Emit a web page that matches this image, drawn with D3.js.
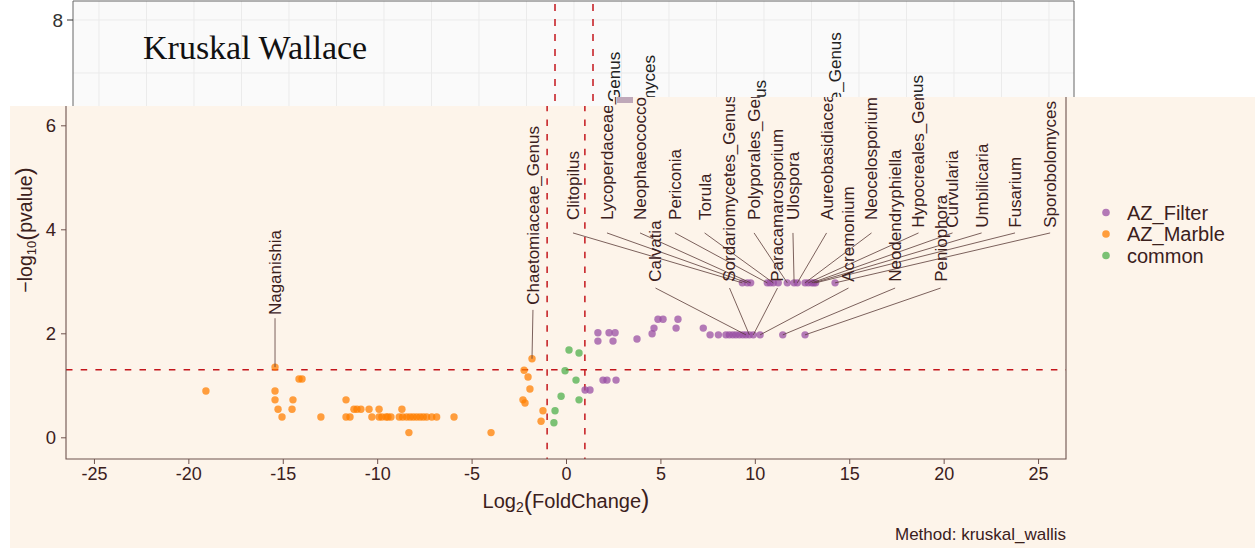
<!DOCTYPE html>
<html><head><meta charset="utf-8">
<script src="https://cdn.jsdelivr.net/npm/d3@7"></script>
<style>body{margin:0;background:#fff} svg{display:block}</style>
</head><body><svg id="c" width="1255" height="548"></svg>
<script>
// ---------------- data ----------------
const groups = ["AZ_Filter", "AZ_Marble", "common"];
const groupColors = ["#984EA3", "#FF7F00", "#4DAF4A"];
const xTicks = [-25, -20, -15, -10, -5, 0, 5, 10, 15, 20, 25];
const yTicks = [0, 2, 4, 6];
const topYTicks = [8];

const filterLog2FC = [9.34, 9.60, 9.78, 10.66, 10.81, 10.98, 11.24, 11.72, 12.08, 12.25, 12.66, 12.83, 13.01, 13.12, 13.22, 14.25,
  7.63, 8.07, 8.47, 8.65, 8.83, 9.00, 9.18, 9.36, 9.53, 9.71, 9.92, 10.28, 11.48, 12.66,
  7.27, 1.69, 2.28, 2.60, 1.69, 2.49, 3.76, 4.56, 4.66, 4.87, 5.14, 5.93, 5.83,
  1.96, 2.17, 2.65, 1.01, 1.27];
const filterNegLogP = [2.97, 2.97, 2.97, 2.97, 2.97, 2.97, 2.97, 2.97, 2.97, 2.97, 2.97, 2.97, 2.97, 2.97, 2.97, 2.97,
  1.97, 1.97, 1.97, 1.97, 1.97, 1.97, 1.97, 1.97, 1.97, 1.97, 1.97, 1.97, 1.97, 1.97,
  2.10, 2.01, 2.01, 2.01, 1.85, 1.85, 1.89, 1.99, 2.10, 2.27, 2.27, 2.27, 2.10,
  1.10, 1.10, 1.10, 0.91, 0.91];

const marbleLog2FC = [-19.07, -15.41, -15.41, -15.41, -15.25, -15.04, -14.14, -13.98, -14.46, -14.51, -12.98,
  -11.65, -11.65, -11.44, -11.23, -11.07, -10.86, -10.43, -10.28, -9.90, -9.90, -9.75, -9.53, -9.43, -9.27,
  -8.69, -8.83, -8.65, -8.44, -8.26, -8.09, -7.91, -7.73, -7.56, -7.38, -7.11, -6.85, -8.32, -5.93, -3.97,
  -1.80, -2.22, -2.01, -1.91, -2.28, -2.17, -1.22, -1.32];
const marbleNegLogP = [0.89, 1.35, 0.89, 0.72, 0.54, 0.39, 1.12, 1.12, 0.72, 0.54, 0.39,
  0.72, 0.39, 0.39, 0.54, 0.54, 0.54, 0.54, 0.39, 0.54, 0.39, 0.39, 0.39, 0.39, 0.39,
  0.54, 0.39, 0.39, 0.39, 0.39, 0.39, 0.39, 0.39, 0.39, 0.39, 0.39, 0.39, 0.09, 0.39, 0.09,
  1.51, 1.29, 1.16, 0.93, 0.72, 0.66, 0.51, 0.31];

const commonLog2FC = [0.16, 0.69, -0.05, 0.53, -0.26, 0.69, -0.58, -0.64];
const commonNegLogP = [1.68, 1.62, 1.28, 1.10, 0.79, 0.72, 0.51, 0.28];

// labelled taxa: the point each label refers to
const labelNames = ["Naganishia", "Chaetomiaceae_Genus", "Clitopilus", "Lycoperdaceae_Genus", "Neophaeococcomyces",
  "Calvatia", "Periconia", "Torula", "Sordariomycetes_Genus", "Polyporales_Genus", "Paracamarosporium", "Ulospora",
  "Aureobasidiaceae_Genus", "Acremonium", "Neocelosporium", "Neodendryphiella", "Hypocreales_Genus", "Peniophora",
  "Curvularia", "Umbilicaria", "Fusarium", "Sporobolomyces"];
const labelPointX = [-15.41, -1.80, 9.34, 9.60, 9.78, 9.53, 10.66, 10.98, 9.71, 11.72, 9.92, 12.08,
  12.25, 10.28, 12.66, 11.48, 12.83, 12.66, 13.01, 13.12, 13.22, 14.25];
const labelPointY = [1.35, 1.51, 2.97, 2.97, 2.97, 1.97, 2.97, 2.97, 1.97, 2.97, 1.97, 2.97,
  2.97, 1.97, 2.97, 1.97, 2.97, 1.97, 2.97, 2.97, 2.97, 2.97];
// repelled label positions (data units): text x, text start y, segment start y
const labelTextX = [-15.41, -1.75, 0.37, 2.17, 3.92, 4.74, 5.77, 7.34, 8.66, 9.96, 11.20, 12.02,
  13.80, 14.96, 16.18, 17.43, 18.67, 19.84, 20.47, 22.01, 23.78, 25.64];
const labelTextY = [2.35, 2.55, 4.18, 4.18, 4.18, 2.99, 4.18, 4.18, 2.99, 4.18, 2.99, 4.18,
  4.18, 2.99, 4.18, 2.99, 4.03, 2.99, 4.03, 4.03, 4.03, 4.03];
const labelSegY = [2.29, 2.45, 3.93, 3.93, 3.93, 2.87, 3.93, 3.93, 2.87, 3.93, 2.87, 3.93,
  3.93, 2.87, 3.93, 2.87, 3.93, 2.87, 3.93, 3.93, 3.93, 3.93];

// fragments of the underlying (background) plot
const topLabelNames = ["Lycoperdaceae_Genus", "Neophaeococcomyces", "Polyporales_Genus", "Aureobasidiaceae_Genus", "Hypocreales_Genus"];
const topLabelX = [2.13, 3.95, 9.79, 13.76, 18.05];
const topLabelEndY = [7.40, 7.34, 6.87, 7.77, 6.96];

const pThreshold = 1.301;
const fcThreshold = [-1, 1];

// ---------------- drawing ----------------
const svg = d3.select("#c");
const textCol = "#3b201c";
const axisCol = "#6e534e";
const font = "'Liberation Sans', Arial, Helvetica, sans-serif";
const defs = svg.append("defs");

// ---- background plot (partially hidden) ----
const xTop = d3.scaleLinear().domain([-1, 1]).range([555, 593]);
const yTop = d3.scaleLinear().domain([7, 8]).range([73, 20]);
defs.append("clipPath").attr("id", "topClip").append("rect")
  .attr("x", 73).attr("y", 1).attr("width", 1001).attr("height", 110);
const topG = svg.append("g");
const topPanel = topG.append("g").attr("clip-path", "url(#topClip)");
topPanel.append("rect").attr("x", 73).attr("y", 1).attr("width", 1001).attr("height", 120).attr("fill", "#fafafa");
const topGridX = d3.range(-25, 26, 2.5);
topPanel.selectAll("line.gx").data(topGridX).join("line")
  .attr("x1", d => xTop(d)).attr("x2", d => xTop(d)).attr("y1", 0).attr("y2", 120)
  .attr("stroke", "#ebebeb").attr("stroke-width", 1);
topPanel.selectAll("line.gy").data([8, 7]).join("line")
  .attr("x1", 73).attr("x2", 1074).attr("y1", d => yTop(d)).attr("y2", d => yTop(d))
  .attr("stroke", "#ebebeb").attr("stroke-width", 1);
topPanel.selectAll("line.vd").data(fcThreshold).join("line")
  .attr("x1", d => xTop(d)).attr("x2", d => xTop(d)).attr("y1", 4).attr("y2", 120)
  .attr("stroke", "#c4161c").attr("stroke-width", 1.5).attr("stroke-dasharray", "7,8");
topPanel.selectAll("text.tl").data(topLabelNames).join("text")
  .attr("transform", (d, i) => `translate(${xTop(topLabelX[i])},${yTop(topLabelEndY[i])}) rotate(-90)`)
  .attr("text-anchor", "end").attr("dy", "0.35em")
  .attr("font-family", font).attr("font-size", 17).attr("fill", "#222").text(d => d);
topG.append("path").attr("d", "M73,110V1H1074V100").attr("fill", "none").attr("stroke", "#666").attr("stroke-width", 1);
topG.selectAll("line.ty").data(topYTicks).join("line")
  .attr("x1", 67).attr("x2", 73).attr("y1", d => yTop(d)).attr("y2", d => yTop(d)).attr("stroke", "#333");
topG.selectAll("text.ty").data(topYTicks).join("text")
  .attr("x", 63).attr("y", d => yTop(d)).attr("dy", "0.36em").attr("text-anchor", "end")
  .attr("font-family", font).attr("font-size", 19).attr("fill", "#333").text(d => d);
topG.append("text").attr("x", 143).attr("y", 59)
  .attr("font-family", "'Liberation Serif', 'DejaVu Serif', serif").attr("font-size", 34).attr("fill", "#111")
  .text("Kruskal Wallace");

// ---- peach overlay ----
const peachPts = [[10, 106], [613, 106], [613, 97], [1255, 97], [1255, 548], [10, 548]];
svg.append("polygon").attr("points", peachPts.map(p => p.join(",")).join(" ")).attr("fill", "#fdf4ea");
svg.append("rect").attr("x", 617).attr("y", 97).attr("width", 16).attr("height", 6).attr("fill", "#a98fa8").attr("opacity", 0.75);

// ---- main plot ----
const x = d3.scaleLinear().domain([-26.48, 26.48]).range([66, 1066]);
const y = d3.scaleLinear().domain([0, 6]).range([437.3, 125.3]);
const color = d3.scaleOrdinal().domain(groups).range(groupColors);

const clipPts = [[66, 106], [613, 106], [613, 97], [1066, 97], [1066, 459], [66, 459]];
defs.append("clipPath").attr("id", "mainClip").append("polygon")
  .attr("points", clipPts.map(p => p.join(",")).join(" "));

const mainG = svg.append("g");
const panel = mainG.append("g").attr("clip-path", "url(#mainClip)");

// threshold lines
panel.append("line").attr("x1", x.range()[0]).attr("x2", x.range()[1])
  .attr("y1", y(pThreshold)).attr("y2", y(pThreshold))
  .attr("stroke", "#c4161c").attr("stroke-width", 1.5).attr("stroke-dasharray", "6.5,8.2");
panel.selectAll("line.fc").data(fcThreshold).join("line")
  .attr("x1", d => x(d)).attr("x2", d => x(d)).attr("y1", 90).attr("y2", 459)
  .attr("stroke", "#c4161c").attr("stroke-width", 1.5).attr("stroke-dasharray", "6.5,8.2");

// points
const pts = [];
marbleLog2FC.forEach((v, i) => pts.push({ g: "AZ_Marble", x: v, y: marbleNegLogP[i] }));
commonLog2FC.forEach((v, i) => pts.push({ g: "common", x: v, y: commonNegLogP[i] }));
filterLog2FC.forEach((v, i) => pts.push({ g: "AZ_Filter", x: v, y: filterNegLogP[i] }));
panel.selectAll("circle.pt").data(pts).join("circle")
  .attr("cx", d => x(d.x)).attr("cy", d => y(d.y)).attr("r", 3.7)
  .attr("fill", d => color(d.g)).attr("fill-opacity", 0.74);

// label segments and texts
const segCol = "#5b3b37";
panel.selectAll("line.seg").data(labelNames).join("line")
  .attr("x1", (d, i) => x(labelTextX[i])).attr("y1", (d, i) => y(labelSegY[i]))
  .attr("x2", (d, i) => x(labelPointX[i])).attr("y2", (d, i) => y(labelPointY[i]))
  .attr("stroke", segCol).attr("stroke-width", 0.8);
panel.selectAll("text.lab").data(labelNames).join("text")
  .attr("transform", (d, i) => `translate(${x(labelTextX[i])},${y(labelTextY[i])}) rotate(-90)`)
  .attr("dy", "0.35em").attr("font-family", font).attr("font-size", 17).attr("fill", textCol)
  .text(d => d);

// panel border (left, right, bottom)
mainG.append("path").attr("d", `M66,106V459H1066V97`).attr("fill", "none").attr("stroke", axisCol).attr("stroke-width", 1.1);

// x axis
const xAxis = mainG.append("g").attr("transform", "translate(0,459)")
  .call(d3.axisBottom(x).tickValues(xTicks).tickFormat(d => String(d)).tickSize(5).tickSizeOuter(0).tickPadding(3));
xAxis.select(".domain").remove();
xAxis.selectAll("line").attr("stroke", axisCol);
xAxis.selectAll("text").attr("font-family", font).attr("font-size", 18).attr("fill", textCol);

// y axis
const yAxis = mainG.append("g").attr("transform", "translate(66,0)")
  .call(d3.axisLeft(y).tickValues(yTicks).tickFormat(d => String(d)).tickSize(5).tickSizeOuter(0).tickPadding(5));
yAxis.select(".domain").remove();
yAxis.selectAll("line").attr("stroke", axisCol);
yAxis.selectAll("text").attr("font-family", font).attr("font-size", 18.5).attr("fill", textCol);

// axis titles
const xt = mainG.append("text").attr("x", 566).attr("y", 508).attr("text-anchor", "middle")
  .attr("font-family", font).attr("font-size", 20).attr("fill", textCol);
xt.append("tspan").text("Log");
xt.append("tspan").attr("font-size", 14).attr("dy", 4).text("2");
xt.append("tspan").attr("font-size", 25).attr("dy", -2).text("(");
xt.append("tspan").attr("font-size", 20).attr("dy", -2).text("FoldChange");
xt.append("tspan").attr("font-size", 25).text(")");

const yt = mainG.append("text").attr("transform", "translate(25,230) rotate(-90)").attr("dy", "0.35em")
  .attr("text-anchor", "middle").attr("font-family", font).attr("font-size", 19.5).attr("fill", textCol);
yt.append("tspan").text("\u2212log");
yt.append("tspan").attr("font-size", 13).attr("dy", 4).text("10");
yt.append("tspan").attr("font-size", 24).attr("dy", -2).text("(");
yt.append("tspan").attr("font-size", 19.5).attr("dy", -2).text("pvalue");
yt.append("tspan").attr("font-size", 24).text(")");

// caption
mainG.append("text").attr("x", 1066).attr("y", 540).attr("text-anchor", "end")
  .attr("font-family", font).attr("font-size", 17).attr("fill", textCol).text("Method: kruskal_wallis");

// legend
const leg = mainG.append("g");
const legY = [212.5, 234, 255.5];
leg.selectAll("circle").data(groups).join("circle")
  .attr("cx", 1106).attr("cy", (d, i) => legY[i]).attr("r", 3.8)
  .attr("fill", d => color(d)).attr("fill-opacity", 0.74);
leg.selectAll("text").data(groups).join("text")
  .attr("x", 1127).attr("y", (d, i) => legY[i]).attr("dy", "0.36em")
  .attr("font-family", font).attr("font-size", 20).attr("fill", textCol).text(d => d);
</script></body></html>
